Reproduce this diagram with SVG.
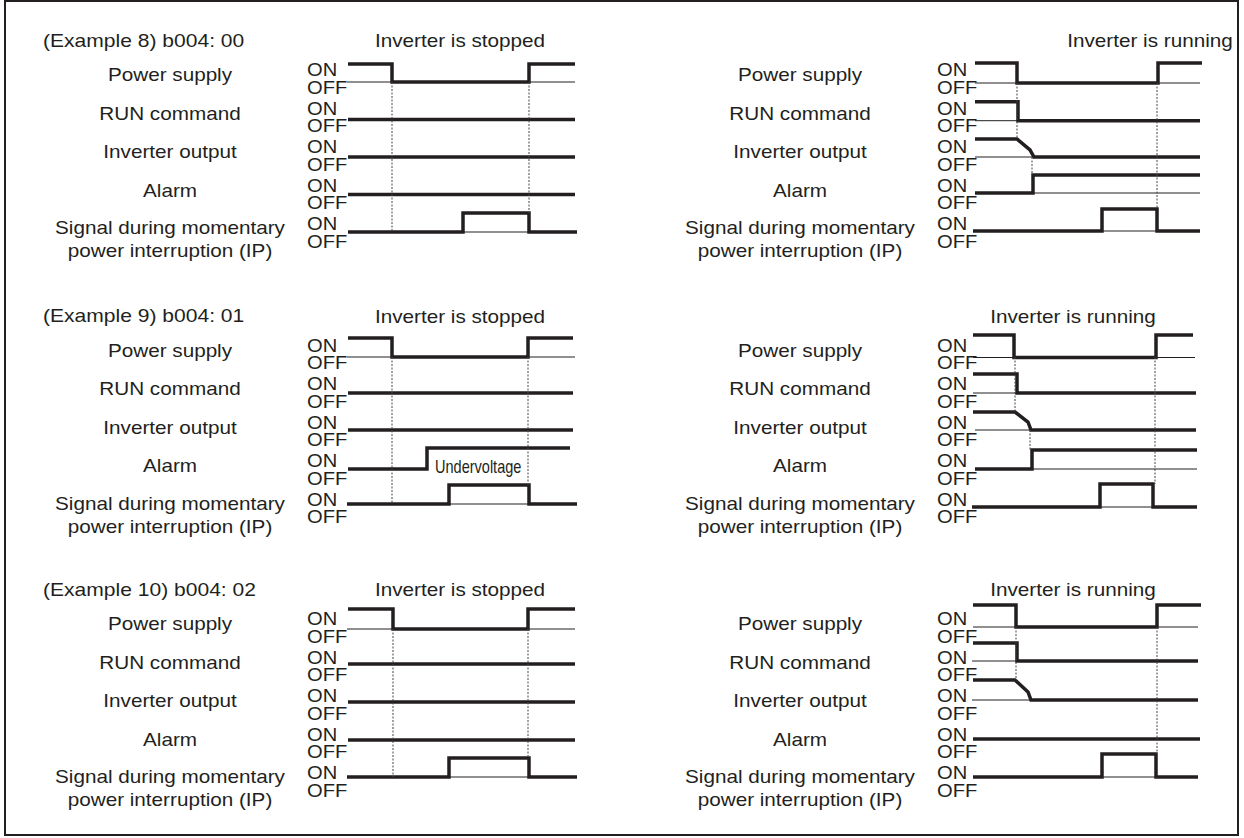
<svg xmlns="http://www.w3.org/2000/svg" width="1244" height="838" viewBox="0 0 1244 838">
<style>
.t{font-family:"Liberation Sans",Arial,sans-serif;font-size:18px;fill:#231f20}
.m{text-anchor:middle}
.uv{font-family:"Liberation Sans",Arial,sans-serif;font-size:17.5px;fill:#231f20}
.thick{fill:none;stroke:#231f20;stroke-width:3.5}
.thin{fill:none;stroke:#231f20;stroke-width:1}
.dash{fill:none;stroke:#444;stroke-width:1;stroke-dasharray:2 1.5}
</style>
<rect x="5" y="1" width="1233" height="834" fill="#fff" stroke="#231f20" stroke-width="2"/>

<!-- Example 8 -->
<g id="ex8-titles">
<text class="t" transform="matrix(1.17 0 0 1 43 47)">(Example 8) b004: 00</text>
<text class="t m" transform="matrix(1.15 0 0 1 460 47)">Inverter is stopped</text>
<text class="t m" transform="matrix(1.15 0 0 1 1150 47)">Inverter is running</text>
</g>
<g id="ex8-labels">
<text class="t m" transform="matrix(1.15 0 0 1 170 81)">Power supply</text>
<text class="t m" transform="matrix(1.15 0 0 1 170 119.5)">RUN command</text>
<text class="t m" transform="matrix(1.15 0 0 1 170 158)">Inverter output</text>
<text class="t m" transform="matrix(1.15 0 0 1 170 196.5)">Alarm</text>
<text class="t m" transform="matrix(1.15 0 0 1 170 234)">Signal during momentary</text>
<text class="t m" transform="matrix(1.15 0 0 1 170 257)">power interruption (IP)</text>
<text class="t m" transform="matrix(1.15 0 0 1 800 81)">Power supply</text>
<text class="t m" transform="matrix(1.15 0 0 1 800 119.5)">RUN command</text>
<text class="t m" transform="matrix(1.15 0 0 1 800 158)">Inverter output</text>
<text class="t m" transform="matrix(1.15 0 0 1 800 196.5)">Alarm</text>
<text class="t m" transform="matrix(1.15 0 0 1 800 234)">Signal during momentary</text>
<text class="t m" transform="matrix(1.15 0 0 1 800 257)">power interruption (IP)</text>
</g>
<g id="ex8-levels">
<text class="t" transform="matrix(1.12 0 0 1 307 76)">ON</text>
<text class="t" transform="matrix(1.12 0 0 1 307 93.5)">OFF</text>
<text class="t" transform="matrix(1.12 0 0 1 307 114.5)">ON</text>
<text class="t" transform="matrix(1.12 0 0 1 307 132)">OFF</text>
<text class="t" transform="matrix(1.12 0 0 1 307 153)">ON</text>
<text class="t" transform="matrix(1.12 0 0 1 307 170.5)">OFF</text>
<text class="t" transform="matrix(1.12 0 0 1 307 191.5)">ON</text>
<text class="t" transform="matrix(1.12 0 0 1 307 209)">OFF</text>
<text class="t" transform="matrix(1.12 0 0 1 307 230)">ON</text>
<text class="t" transform="matrix(1.12 0 0 1 307 247.5)">OFF</text>
<text class="t" transform="matrix(1.12 0 0 1 937 76)">ON</text>
<text class="t" transform="matrix(1.12 0 0 1 937 93.5)">OFF</text>
<text class="t" transform="matrix(1.12 0 0 1 937 114.5)">ON</text>
<text class="t" transform="matrix(1.12 0 0 1 937 132)">OFF</text>
<text class="t" transform="matrix(1.12 0 0 1 937 153)">ON</text>
<text class="t" transform="matrix(1.12 0 0 1 937 170.5)">OFF</text>
<text class="t" transform="matrix(1.12 0 0 1 937 191.5)">ON</text>
<text class="t" transform="matrix(1.12 0 0 1 937 209)">OFF</text>
<text class="t" transform="matrix(1.12 0 0 1 937 230)">ON</text>
<text class="t" transform="matrix(1.12 0 0 1 937 247.5)">OFF</text>
</g>
<g id="ex8-stopped-signals">
<path class="thin" d="M347 82H575M463 232H529"/>
<path class="thick" d="M348 64H392V82H529V64H575"/>
<path class="thick" d="M348 119.5H575"/>
<path class="thick" d="M348 157H575"/>
<path class="thick" d="M348 194.5H575"/>
<path class="thick" d="M348 232H463V213H529V232H577"/>
<path class="dash" d="M392 82V232M529 82V213"/>
</g>
<g id="ex8-running-signals">
<path class="thin" d="M975 83H1200M975 120.7H1018M975 157H1034M1033 193H1200M1102 231H1157"/>
<path class="thick" d="M975 63H1017V83H1158V63H1202"/>
<path class="thick" d="M975 101.7H1018V120.7H1200"/>
<path class="thick" d="M975 139H1017L1030 150L1034 157H1200"/>
<path class="thick" d="M975 193H1033V175H1200"/>
<path class="thick" d="M973 231H1102V209H1157V231H1200"/>
<path class="dash" d="M1017 83V139M1032 157V175M1157 83V209"/>
</g>

<!-- Example 9 -->
<g id="ex9-titles">
<text class="t" transform="matrix(1.17 0 0 1 43 322)">(Example 9) b004: 01</text>
<text class="t m" transform="matrix(1.15 0 0 1 460 322.5)">Inverter is stopped</text>
<text class="t m" transform="matrix(1.15 0 0 1 1073 322.5)">Inverter is running</text>
</g>
<g id="ex9-labels">
<text class="t m" transform="matrix(1.15 0 0 1 170 356.5)">Power supply</text>
<text class="t m" transform="matrix(1.15 0 0 1 170 395)">RUN command</text>
<text class="t m" transform="matrix(1.15 0 0 1 170 433.5)">Inverter output</text>
<text class="t m" transform="matrix(1.15 0 0 1 170 472)">Alarm</text>
<text class="t m" transform="matrix(1.15 0 0 1 170 509.5)">Signal during momentary</text>
<text class="t m" transform="matrix(1.15 0 0 1 170 532.5)">power interruption (IP)</text>
<text class="t m" transform="matrix(1.15 0 0 1 800 356.5)">Power supply</text>
<text class="t m" transform="matrix(1.15 0 0 1 800 395)">RUN command</text>
<text class="t m" transform="matrix(1.15 0 0 1 800 433.5)">Inverter output</text>
<text class="t m" transform="matrix(1.15 0 0 1 800 472)">Alarm</text>
<text class="t m" transform="matrix(1.15 0 0 1 800 509.5)">Signal during momentary</text>
<text class="t m" transform="matrix(1.15 0 0 1 800 532.5)">power interruption (IP)</text>
</g>
<g id="ex9-levels">
<text class="t" transform="matrix(1.12 0 0 1 307 351.5)">ON</text>
<text class="t" transform="matrix(1.12 0 0 1 307 369)">OFF</text>
<text class="t" transform="matrix(1.12 0 0 1 307 390)">ON</text>
<text class="t" transform="matrix(1.12 0 0 1 307 407.5)">OFF</text>
<text class="t" transform="matrix(1.12 0 0 1 307 428.5)">ON</text>
<text class="t" transform="matrix(1.12 0 0 1 307 446)">OFF</text>
<text class="t" transform="matrix(1.12 0 0 1 307 467)">ON</text>
<text class="t" transform="matrix(1.12 0 0 1 307 484.5)">OFF</text>
<text class="t" transform="matrix(1.12 0 0 1 307 505.5)">ON</text>
<text class="t" transform="matrix(1.12 0 0 1 307 523)">OFF</text>
<text class="t" transform="matrix(1.12 0 0 1 937 351.5)">ON</text>
<text class="t" transform="matrix(1.12 0 0 1 937 369)">OFF</text>
<text class="t" transform="matrix(1.12 0 0 1 937 390)">ON</text>
<text class="t" transform="matrix(1.12 0 0 1 937 407.5)">OFF</text>
<text class="t" transform="matrix(1.12 0 0 1 937 428.5)">ON</text>
<text class="t" transform="matrix(1.12 0 0 1 937 446)">OFF</text>
<text class="t" transform="matrix(1.12 0 0 1 937 467)">ON</text>
<text class="t" transform="matrix(1.12 0 0 1 937 484.5)">OFF</text>
<text class="t" transform="matrix(1.12 0 0 1 937 505.5)">ON</text>
<text class="t" transform="matrix(1.12 0 0 1 937 523)">OFF</text>
</g>
<g id="ex9-stopped-signals">
<path class="thin" d="M347 357H575M449 504H529"/>
<path class="thick" d="M348 338H392V357H528V338H573"/>
<path class="thick" d="M348 393H573"/>
<path class="thick" d="M348 430H573"/>
<path class="thick" d="M348 469H427V448H570"/>
<path class="thick" d="M347 504H449V485H529V504H577"/>
<path class="dash" d="M392 357V504M528 357V485"/>
<text class="uv" transform="matrix(0.83 0 0 1 435 473)">Undervoltage</text>
</g>
<g id="ex9-running-signals">
<path class="thin" d="M973 357.5H1195M973 393H1017M975 430H1031M1032 469H1197M1100 507H1153"/>
<path class="thick" d="M973 335H1014V357.5H1156V335H1193"/>
<path class="thick" d="M973 374H1017V393H1196"/>
<path class="thick" d="M973 412H1015L1028 422L1031 430H1196"/>
<path class="thick" d="M975 469H1032V450H1197"/>
<path class="thick" d="M972 507H1100V484H1153V507H1197"/>
<path class="dash" d="M1015 357V412M1030 430V450M1155 357V484"/>
</g>

<!-- Example 10 -->
<g id="ex10-titles">
<text class="t" transform="matrix(1.17 0 0 1 43 596)">(Example 10) b004: 02</text>
<text class="t m" transform="matrix(1.15 0 0 1 460 596)">Inverter is stopped</text>
<text class="t m" transform="matrix(1.15 0 0 1 1073 596)">Inverter is running</text>
</g>
<g id="ex10-labels">
<text class="t m" transform="matrix(1.15 0 0 1 170 630)">Power supply</text>
<text class="t m" transform="matrix(1.15 0 0 1 170 668.5)">RUN command</text>
<text class="t m" transform="matrix(1.15 0 0 1 170 707)">Inverter output</text>
<text class="t m" transform="matrix(1.15 0 0 1 170 745.5)">Alarm</text>
<text class="t m" transform="matrix(1.15 0 0 1 170 783)">Signal during momentary</text>
<text class="t m" transform="matrix(1.15 0 0 1 170 806)">power interruption (IP)</text>
<text class="t m" transform="matrix(1.15 0 0 1 800 630)">Power supply</text>
<text class="t m" transform="matrix(1.15 0 0 1 800 668.5)">RUN command</text>
<text class="t m" transform="matrix(1.15 0 0 1 800 707)">Inverter output</text>
<text class="t m" transform="matrix(1.15 0 0 1 800 745.5)">Alarm</text>
<text class="t m" transform="matrix(1.15 0 0 1 800 783)">Signal during momentary</text>
<text class="t m" transform="matrix(1.15 0 0 1 800 806)">power interruption (IP)</text>
</g>
<g id="ex10-levels">
<text class="t" transform="matrix(1.12 0 0 1 307 625)">ON</text>
<text class="t" transform="matrix(1.12 0 0 1 307 642.5)">OFF</text>
<text class="t" transform="matrix(1.12 0 0 1 307 663.5)">ON</text>
<text class="t" transform="matrix(1.12 0 0 1 307 681)">OFF</text>
<text class="t" transform="matrix(1.12 0 0 1 307 702)">ON</text>
<text class="t" transform="matrix(1.12 0 0 1 307 719.5)">OFF</text>
<text class="t" transform="matrix(1.12 0 0 1 307 740.5)">ON</text>
<text class="t" transform="matrix(1.12 0 0 1 307 758)">OFF</text>
<text class="t" transform="matrix(1.12 0 0 1 307 779)">ON</text>
<text class="t" transform="matrix(1.12 0 0 1 307 796.5)">OFF</text>
<text class="t" transform="matrix(1.12 0 0 1 937 625)">ON</text>
<text class="t" transform="matrix(1.12 0 0 1 937 642.5)">OFF</text>
<text class="t" transform="matrix(1.12 0 0 1 937 663.5)">ON</text>
<text class="t" transform="matrix(1.12 0 0 1 937 681)">OFF</text>
<text class="t" transform="matrix(1.12 0 0 1 937 702)">ON</text>
<text class="t" transform="matrix(1.12 0 0 1 937 719.5)">OFF</text>
<text class="t" transform="matrix(1.12 0 0 1 937 740.5)">ON</text>
<text class="t" transform="matrix(1.12 0 0 1 937 758)">OFF</text>
<text class="t" transform="matrix(1.12 0 0 1 937 779)">ON</text>
<text class="t" transform="matrix(1.12 0 0 1 937 796.5)">OFF</text>
</g>
<g id="ex10-stopped-signals">
<path class="thin" d="M347 629H575M449 777H529"/>
<path class="thick" d="M348 609H393V629H528V609H575"/>
<path class="thick" d="M348 664H575"/>
<path class="thick" d="M348 702H575"/>
<path class="thick" d="M348 740H575"/>
<path class="thick" d="M347 777H449V758H529V777H577"/>
<path class="dash" d="M393 629V777M528 629V758"/>
</g>
<g id="ex10-running-signals">
<path class="thin" d="M973 627H1198M972 661H1017M972 700H1031M1102 777H1156"/>
<path class="thick" d="M973 605H1016V627H1157V605H1201"/>
<path class="thick" d="M973 643H1017V661H1198"/>
<path class="thick" d="M973 680H1015L1028 692L1031 700H1198"/>
<path class="thick" d="M973 739H1200"/>
<path class="thick" d="M973 777H1102V754H1156V777H1198"/>
<path class="dash" d="M1016 627V680M1157 627V754"/>
</g>
</svg>
